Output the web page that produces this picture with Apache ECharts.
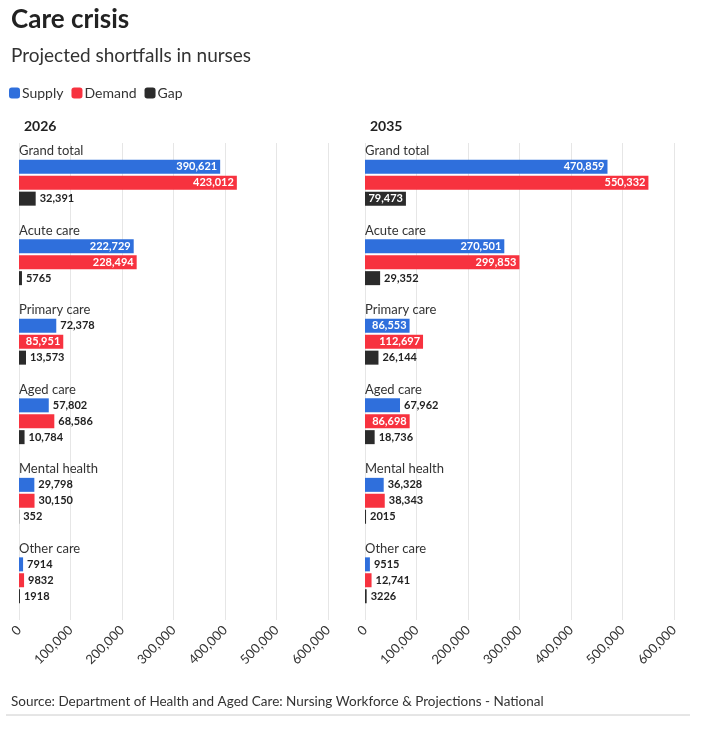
<!DOCTYPE html>
<html><head><meta charset="utf-8">
<script src="https://cdn.jsdelivr.net/npm/echarts@6/dist/echarts.min.js"></script>
<style>body{margin:0;background:#fff}#c{width:702px;height:731px}</style>
</head><body><div id="c"></div>
<script>
var categories = ['Grand total', 'Acute care', 'Primary care', 'Aged care', 'Mental health', 'Other care'];
var supply2026 = [390621, 222729, 72378, 57802, 29798, 7914];
var demand2026 = [423012, 228494, 85951, 68586, 30150, 9832];
var gap2026 = [32391, 5765, 13573, 10784, 352, 1918];
var supply2035 = [470859, 270501, 86553, 67962, 36328, 9515];
var demand2035 = [550332, 299853, 112697, 86698, 38343, 12741];
var gap2035 = [79473, 29352, 26144, 18736, 2015, 3226];
var xTicks = [0, 100000, 200000, 300000, 400000, 500000, 600000];

var font = 'Lato';
var colors = {Supply: '#2f6fdc', Demand: '#f7323f', Gap: '#2b2b2b'};
var slots = [];
categories.forEach(function (c, i) { slots.push('L' + i, 'S' + i, 'D' + i, 'G' + i, 'B' + i); });

function fmt(v) { return v >= 10000 ? v.toLocaleString('en-US') : String(v); }

function seriesData(vals, pos) {
  var d = slots.map(function () { return '-'; });
  vals.forEach(function (v, i) {
    var inside = v >= 75000;
    d[i * 5 + pos] = {
      value: v,
      label: inside
        ? {position: 'insideRight', color: '#fff', distance: 3}
        : {position: 'right', color: '#222', distance: 4}
    };
  });
  return d;
}

var myChart = echarts.init(document.getElementById('c'));
var grids = [{left: 19, width: 309, top: 143, height: 477}, {left: 365, width: 309, top: 143, height: 477}];
var sets = [[supply2026, demand2026, gap2026], [supply2035, demand2035, gap2035]];
var series = [];
sets.forEach(function (s, gi) {
  var labelData = slots.map(function (k) {
    return k[0] === 'L' ? {value: 0, name: categories[+k.slice(1)]} : '-';
  });
  series.push({
    type: 'bar', xAxisIndex: gi, yAxisIndex: gi, barWidth: 14, barGap: '-100%',
    data: labelData, silent: true, itemStyle: {color: 'transparent'},
    label: {show: true, position: 'insideLeft', distance: 0, offset: [0, 0], color: '#333',
      fontFamily: font, fontSize: 13, formatter: function (p) { return categories[Math.floor(p.dataIndex / 5)]; }}
  });
  ['Supply', 'Demand', 'Gap'].forEach(function (n, k) {
    series.push({
      name: n, type: 'bar', xAxisIndex: gi, yAxisIndex: gi, barWidth: 14, barGap: '-100%',
      data: seriesData(s[k], k + 1),
      itemStyle: {color: colors[n]},
      label: {show: true, fontFamily: font, fontSize: 11, fontWeight: 'bold',
        formatter: function (p) { return fmt(p.value); }}
    });
  });
});

myChart.setOption({
  animation: false,
  textStyle: {fontFamily: font},
  title: [
    {text: 'Care crisis', left: 6, top: 2, textStyle: {fontSize: 26, fontWeight: 'bold', color: '#222', fontFamily: font}},
    {text: 'Projected shortfalls in nurses', left: 6, top: 41, textStyle: {fontSize: 19, fontWeight: 'normal', color: '#333', fontFamily: font}},
    {text: '2026', left: 19, top: 114, textStyle: {fontSize: 14, fontWeight: 'bold', color: '#222', fontFamily: font}},
    {text: '2035', left: 365, top: 114, textStyle: {fontSize: 14, fontWeight: 'bold', color: '#222', fontFamily: font}},
    {text: 'Source: Department of Health and Aged Care: Nursing Workforce & Projections - National', left: 6, top: 690,
      textStyle: {fontSize: 13.5, fontWeight: 'normal', color: '#333', fontFamily: font}}
  ],
  legend: {left: 4, top: 81, itemWidth: 11, itemHeight: 11, itemGap: 8, icon: 'roundRect',
    data: ['Supply', 'Demand', 'Gap'], textStyle: {fontSize: 14, color: '#333', padding: [0, 0, 0, -3]}},
  graphic: [{type: 'line', shape: {x1: 6, y1: 715, x2: 690, y2: 715}, style: {stroke: '#ccc', lineWidth: 1}}],
  grid: grids,
  xAxis: grids.map(function (g, i) {
    return {type: 'value', gridIndex: i, min: xTicks[0], max: xTicks[xTicks.length - 1], interval: 100000,
      axisLine: {show: false}, axisTick: {show: false},
      splitLine: {lineStyle: {color: '#e6e6e6'}},
      axisLabel: {rotate: 45, fontSize: 13, color: '#333', margin: 8,
        formatter: function (v) { return v.toLocaleString('en-US'); }}};
  }),
  yAxis: grids.map(function (g, i) {
    return {type: 'category', gridIndex: i, inverse: true, data: slots, show: false};
  }),
  series: series
});
</script></body></html>
